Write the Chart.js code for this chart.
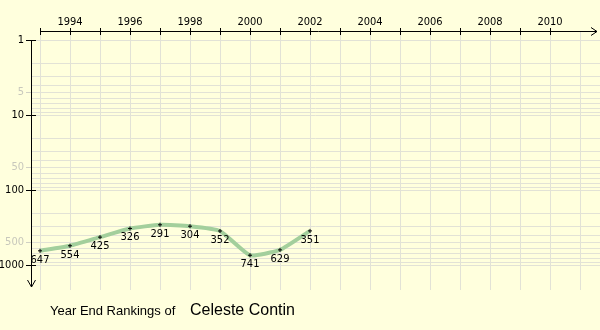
<!DOCTYPE html>
<html>
<head>
<meta charset="utf-8">
<script src="https://cdn.jsdelivr.net/npm/chart.js@4/dist/chart.umd.min.js"></script>
<style>
  html, body { margin: 0; padding: 0; background: #ffffdd; }
  #wrap { position: relative; width: 600px; height: 330px; }
</style>
</head>
<body>
<div id="wrap"><canvas id="rankChart" width="600" height="330"></canvas></div>
<script>
const years = [1993, 1994, 1995, 1996, 1997, 1998, 1999, 2000, 2001, 2002];
const rankings = [647, 554, 425, 326, 291, 304, 352, 741, 629, 351];
const yearTicks = [1994, 1996, 1998, 2000, 2002, 2004, 2006, 2008, 2010];
const majorRanks = [1, 10, 100, 1000];
const halfRanks = [5, 50, 500];
const playerName = "Celeste Contin";

const FONT = '11px "DejaVu Sans Condensed", "DejaVu Sans", sans-serif';

// axes, grid, value labels and caption are painted by hand on top of the hidden scales
const rankingAxes = {
    id: "rankingAxes",
    beforeDatasetsDraw(chart) {
        const ctx = chart.ctx;
        const x = chart.scales.x;
        const y = chart.scales.y;
        const axisX = 31.5;
        const axisY = 31.5;

        ctx.save();
        ctx.lineWidth = 1;

        // horizontal grid: every 1..9 step of each decade
        ctx.strokeStyle = "#e2e2d6";
        for (let dec = 1; dec <= 100; dec *= 10) {
            for (let m = 1; m <= 9; m++) {
                const py = Math.round(y.getPixelForValue(m * dec)) + 0.5;
                ctx.beginPath();
                ctx.moveTo(axisX, py);
                ctx.lineTo(600, py);
                ctx.stroke();
            }
        }
        const p1000 = Math.round(y.getPixelForValue(1000)) + 0.5;
        ctx.beginPath();
        ctx.moveTo(axisX, p1000);
        ctx.lineTo(600, p1000);
        ctx.stroke();

        // vertical grid on every year
        for (let yr = 1993; yr <= 2011; yr++) {
            const px = Math.round(x.getPixelForValue(yr)) + 0.5;
            ctx.beginPath();
            ctx.moveTo(px, axisY);
            ctx.lineTo(px, 290);
            ctx.stroke();
        }

        // top x axis with arrow
        ctx.strokeStyle = "#000";
        ctx.beginPath();
        ctx.moveTo(40, axisY);
        ctx.lineTo(597, axisY);
        ctx.moveTo(591, axisY - 4);
        ctx.lineTo(597, axisY);
        ctx.lineTo(591, axisY + 4);
        ctx.stroke();
        for (let yr = 1993; yr <= 2010; yr++) {
            const px = Math.round(x.getPixelForValue(yr)) + 0.5;
            ctx.beginPath();
            ctx.moveTo(px, 28);
            ctx.lineTo(px, 35);
            ctx.stroke();
        }
        ctx.fillStyle = "#000";
        ctx.font = FONT;
        ctx.textAlign = "center";
        ctx.textBaseline = "alphabetic";
        yearTicks.forEach(yr => {
            ctx.fillText(String(yr), x.getPixelForValue(yr), 25);
        });

        // left y axis pointing down
        ctx.beginPath();
        ctx.moveTo(axisX, 40);
        ctx.lineTo(axisX, 287);
        ctx.moveTo(axisX - 4, 280);
        ctx.lineTo(axisX, 287);
        ctx.lineTo(axisX + 4, 280);
        ctx.stroke();
        ctx.textAlign = "right";
        ctx.textBaseline = "middle";
        majorRanks.forEach(r => {
            const py = Math.round(y.getPixelForValue(r)) + 0.5;
            ctx.strokeStyle = "#000";
            ctx.beginPath();
            ctx.moveTo(26, py);
            ctx.lineTo(36, py);
            ctx.stroke();
            ctx.fillStyle = "#000";
            ctx.fillText(String(r), 24, py);
        });
        halfRanks.forEach(r => {
            const py = Math.round(y.getPixelForValue(r)) + 0.5;
            ctx.strokeStyle = "#d0d0c4";
            ctx.beginPath();
            ctx.moveTo(26, py);
            ctx.lineTo(31, py);
            ctx.stroke();
            ctx.fillStyle = "#c8c8bc";
            ctx.fillText(String(r), 24, py);
        });
        ctx.restore();
    },
    afterDatasetsDraw(chart) {
        const ctx = chart.ctx;
        const meta = chart.getDatasetMeta(0);
        ctx.save();
        ctx.fillStyle = "#000";
        ctx.font = FONT;
        ctx.textAlign = "center";
        ctx.textBaseline = "middle";
        meta.data.forEach((pt, i) => {
            ctx.fillText(String(rankings[i]), pt.x, pt.y + 9);
        });

        // caption
        ctx.textAlign = "left";
        ctx.textBaseline = "alphabetic";
        ctx.font = '13px "Liberation Sans", Arial, sans-serif';
        ctx.fillText("Year End Rankings of", 50, 315);
        ctx.font = '16px "Liberation Sans", Arial, sans-serif';
        ctx.fillText(playerName, 190, 315);
        ctx.restore();
    }
};

new Chart(document.getElementById("rankChart"), {
    type: "line",
    data: {
        datasets: [{
            data: years.map((yr, i) => ({ x: yr, y: rankings[i] })),
            borderColor: "#a3cf9c",
            borderWidth: 4,
            tension: 0.15,
            pointStyle: "cross",
            pointRadius: 2,
            pointBorderColor: "#000",
            pointBorderWidth: 1,
            clip: false
        }]
    },
    options: {
        responsive: false,
        animation: false,
        events: [],
        layout: { padding: { left: 40, right: 20, top: 40, bottom: 65 } },
        plugins: {
            legend: { display: false },
            tooltip: { enabled: false }
        },
        scales: {
            x: { type: "linear", min: 1993, max: 2011, display: false },
            y: { type: "logarithmic", min: 1, max: 1000, reverse: true, display: false }
        }
    },
    plugins: [rankingAxes]
});
</script>
</body>
</html>
